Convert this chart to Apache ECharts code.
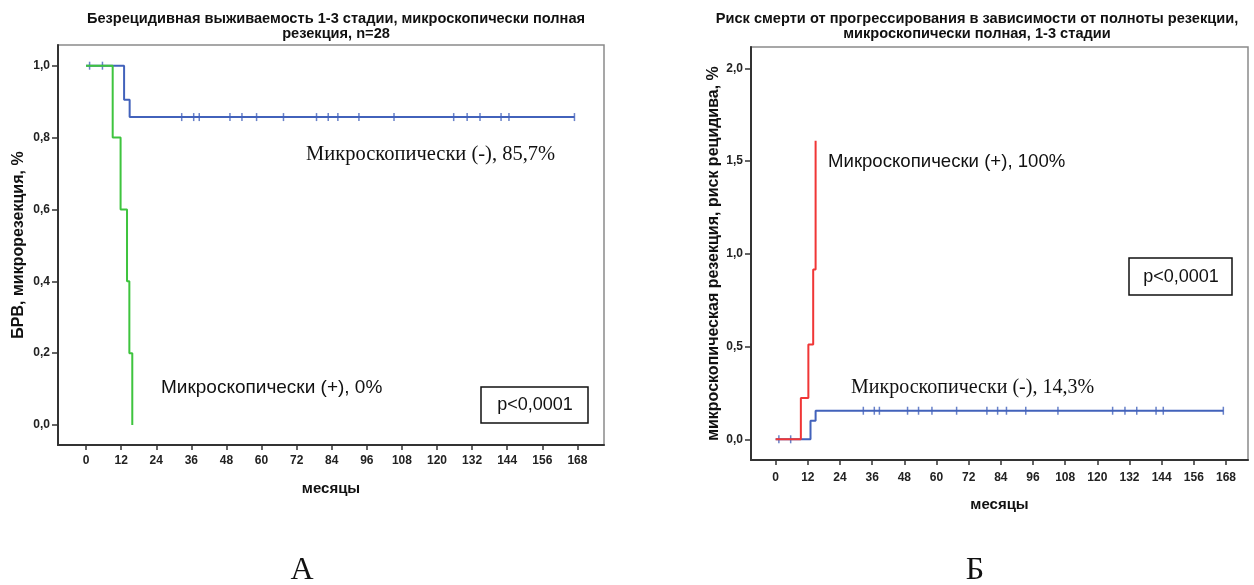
<!DOCTYPE html>
<html>
<head>
<meta charset="utf-8">
<script src="https://cdn.jsdelivr.net/npm/echarts@6/dist/echarts.min.js"></script>
<style>
  html, body { margin: 0; padding: 0; background: #fff; }
  #container { width: 1254px; height: 585px; }
</style>
</head>
<body>
<div id="container"></div>
<script>
// A: relapse-free survival (Kaplan-Meier)
var survTicksY = [0, 0.2, 0.4, 0.6, 0.8, 1.0];
var monthTicks = [0, 12, 24, 36, 48, 60, 72, 84, 96, 108, 120, 132, 144, 156, 168];
var negTimes = [0, 13, 14.9, 167];
var negSurv = [1, 0.905, 0.857, 0.857];
var posTimes = [0, 9.1, 11.8, 14, 14.8, 15.8];
var posSurv = [1, 0.8, 0.6, 0.4, 0.2, 0];
// censored patients, microscopically (-)
var censorTimes = [1.2, 5.6, 32.7, 36.8, 38.7, 49.2, 53.3, 58.3, 67.5, 78.8, 82.8, 86.1, 93.3, 105.3, 125.7, 130.3, 134.7, 141.9, 144.6, 167];

// Б: cumulative hazard
var hazTicksY = [0, 0.5, 1.0, 1.5, 2.0];
var negHazTimes = [0, 13, 14.9, 167];
var negHaz = [0, 0.1, 0.154, 0.154];
var posHazTimes = [0, 9.4, 12.2, 14, 14.9];
var posHaz = [0, 0.223, 0.511, 0.916, 1.609];

function zip(xs, ys) {
    return xs.map(function (x, i) { return [x, ys[i]]; });
}
function censorPoints(times, before, after) {
    return times.map(function (t) { return [t, t < 13 ? before : after]; });
}
function comma(v) {
    return v.toFixed(1).replace('.', ',');
}

var blue = '#4262bb';
var green = '#3ec43e';
var red = '#f03636';
var tickFont = { fontFamily: '"Liberation Sans Narrow", "Liberation Sans"', fontWeight: 'bold', fontSize: 12, color: '#222' };
var nameFont = { fontFamily: 'Liberation Sans', fontWeight: 'bold', color: '#111' };

function xAxisCfg(gridIndex, min, max, labelMargin, gap) {
    return {
        type: 'value', gridIndex: gridIndex, min: min, max: max,
        name: 'месяцы', nameLocation: 'middle', nameGap: gap,
        nameTextStyle: Object.assign({ fontSize: 15 }, nameFont),
        axisLine: { onZero: false, lineStyle: { color: '#333', width: 2 } },
        axisTick: { customValues: monthTicks, length: 5, lineStyle: { color: '#333', width: 1.5 } },
        axisLabel: Object.assign({ customValues: monthTicks, margin: labelMargin }, tickFont),
        splitLine: { show: false }
    };
}
function yAxisCfg(gridIndex, min, max, ticks, name, gap) {
    return {
        type: 'value', gridIndex: gridIndex, min: min, max: max,
        name: name, nameLocation: 'middle', nameGap: gap,
        nameTextStyle: Object.assign({ fontSize: 16 }, nameFont),
        axisLine: { onZero: false, lineStyle: { color: '#333', width: 2 } },
        axisTick: { customValues: ticks, length: 6, lineStyle: { color: '#333', width: 1.5 } },
        axisLabel: Object.assign({ customValues: ticks, margin: 8, formatter: comma }, tickFont),
        splitLine: { show: false }
    };
}

var dom = document.getElementById('container');
var myChart = echarts.init(dom, null, { renderer: 'canvas' });

var titleFont = { fontFamily: 'Liberation Sans', fontWeight: 'bold', fontSize: 14.6, color: '#111', lineHeight: 15 };

var option = {
    animation: false,
    backgroundColor: '#fff',
    title: [
        {
            text: 'Безрецидивная выживаемость 1-3 стадии, микроскопически полная\nрезекция, n=28',
            left: 331, top: 6, textAlign: 'center', textStyle: titleFont
        },
        {
            text: 'Риск смерти от прогрессирования в зависимости от полноты резекции,\nмикроскопически полная, 1-3 стадии',
            left: 972, top: 6, textAlign: 'center', textStyle: titleFont
        }
    ],
    grid: [
        { left: 58, top: 45, width: 546, height: 400, show: true, borderColor: '#8a8a8a', borderWidth: 1.5 },
        { left: 751, top: 47, width: 497, height: 413, show: true, borderColor: '#8a8a8a', borderWidth: 1.5 }
    ],
    xAxis: [
        xAxisCfg(0, -9.6, 177.1, 10, 36),
        xAxisCfg(1, -9.2, 176.2, 12, 37)
    ],
    yAxis: [
        yAxisCfg(0, -0.0557, 1.0576, survTicksY, 'БРВ, микрорезекция, %', 31),
        yAxisCfg(1, -0.1116, 2.1148, hazTicksY, 'микроскопическая резекция, риск рецидива, %', 29)
    ],
    series: [
        {
            type: 'line', xAxisIndex: 0, yAxisIndex: 0, step: 'end', symbol: 'none',
            data: zip(negTimes, negSurv), lineStyle: { color: blue, width: 2 }
        },
        {
            type: 'line', xAxisIndex: 0, yAxisIndex: 0, step: 'end', symbol: 'none',
            data: zip(posTimes, posSurv), lineStyle: { color: green, width: 2 }
        },
        {
            type: 'scatter', xAxisIndex: 0, yAxisIndex: 0, symbol: 'rect', symbolSize: [1.5, 8],
            data: censorPoints(censorTimes, 1, 0.857), itemStyle: { color: blue }
        },
        {
            type: 'line', xAxisIndex: 1, yAxisIndex: 1, step: 'end', symbol: 'none',
            data: zip(negHazTimes, negHaz), lineStyle: { color: blue, width: 2 }
        },
        {
            type: 'line', xAxisIndex: 1, yAxisIndex: 1, step: 'end', symbol: 'none',
            data: zip(posHazTimes, posHaz), lineStyle: { color: red, width: 2 }
        },
        {
            type: 'scatter', xAxisIndex: 1, yAxisIndex: 1, symbol: 'rect', symbolSize: [1.5, 8],
            data: censorPoints(censorTimes, 0, 0.154), itemStyle: { color: blue }
        }
    ],
    graphic: [
        { type: 'text', x: 306, y: 155, style: { text: 'Микроскопически (-), 85,7%', font: '20.5px "Liberation Serif"', fill: '#111', verticalAlign: 'middle' } },
        { type: 'text', x: 161, y: 388, style: { text: 'Микроскопически (+), 0%', font: '19px "Liberation Sans"', fill: '#111', verticalAlign: 'middle' } },
        { type: 'rect', shape: { x: 481, y: 387, width: 107, height: 36 }, style: { fill: '#fff', stroke: '#111', lineWidth: 1.5 } },
        { type: 'text', x: 535, y: 405, style: { text: 'p<0,0001', font: '18px "Liberation Sans"', fill: '#111', align: 'center', verticalAlign: 'middle' } },
        { type: 'text', x: 828, y: 162, style: { text: 'Микроскопически (+), 100%', font: '18.6px "Liberation Sans"', fill: '#111', verticalAlign: 'middle' } },
        { type: 'text', x: 851, y: 388, style: { text: 'Микроскопически (-), 14,3%', font: '20px "Liberation Serif"', fill: '#111', verticalAlign: 'middle' } },
        { type: 'rect', shape: { x: 1129, y: 258, width: 103, height: 37 }, style: { fill: '#fff', stroke: '#111', lineWidth: 1.5 } },
        { type: 'text', x: 1181, y: 277, style: { text: 'p<0,0001', font: '18px "Liberation Sans"', fill: '#111', align: 'center', verticalAlign: 'middle' } },
        { type: 'text', x: 302, y: 571, style: { text: 'А', font: '32px "Liberation Serif"', fill: '#111', align: 'center', verticalAlign: 'middle' } },
        { type: 'text', x: 975, y: 571, style: { text: 'Б', font: '32px "Liberation Serif"', fill: '#111', align: 'center', verticalAlign: 'middle' } }
    ]
};

myChart.setOption(option);
window.addEventListener('resize', myChart.resize);
</script>
</body>
</html>
